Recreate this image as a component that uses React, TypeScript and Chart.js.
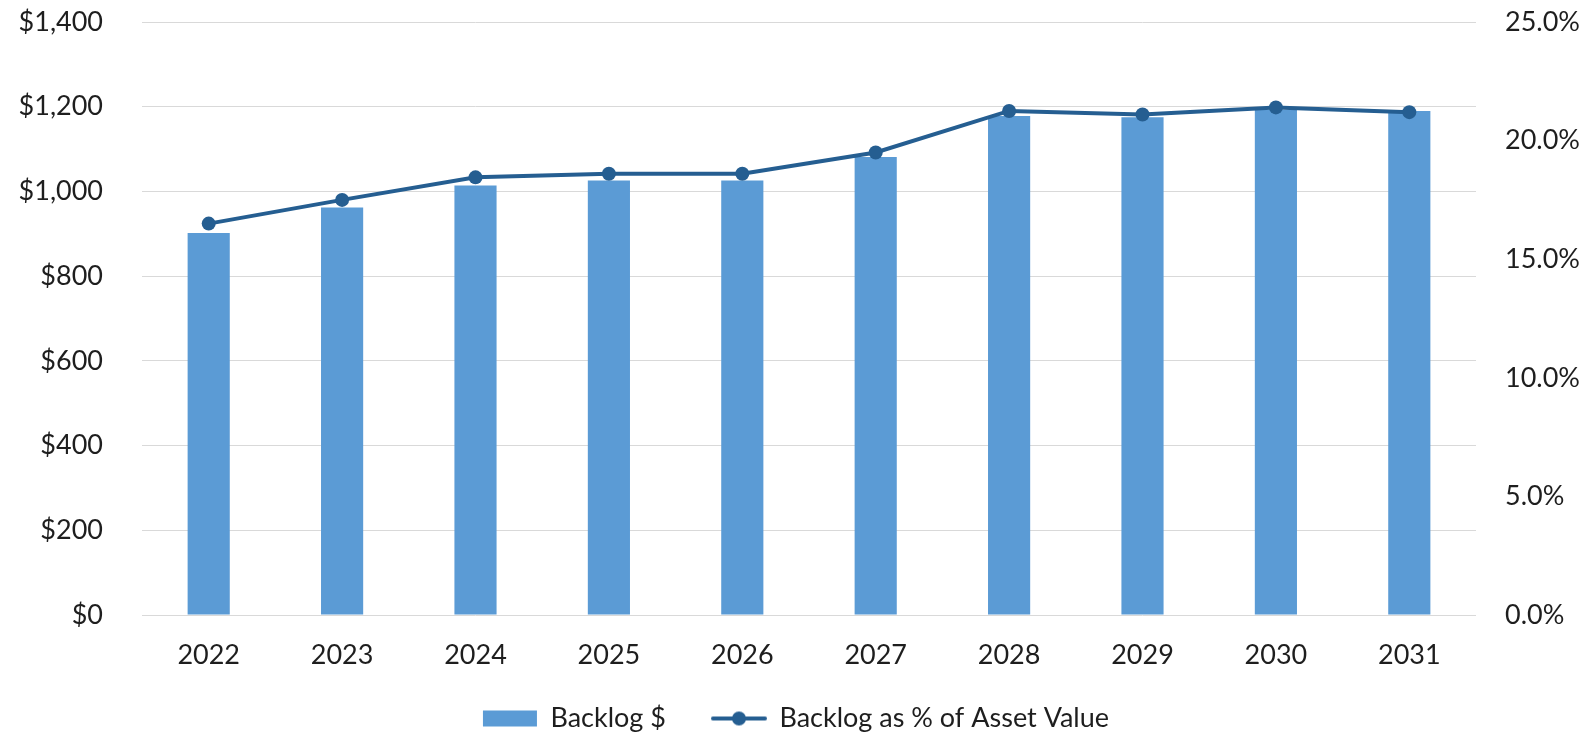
import React, { useEffect, useRef } from 'react';
import { Chart, registerables } from 'chart.js';

Chart.register(...registerables);

const years = ['2022', '2023', '2024', '2025', '2026', '2027', '2028', '2029', '2030', '2031'];
const backlogDollars = [902, 962, 1014, 1026, 1026, 1081, 1178, 1175, 1192, 1190];
const backlogPct = [16.5, 17.5, 18.45, 18.6, 18.6, 19.5, 21.25, 21.1, 21.4, 21.2];
const seriesNames = ['Backlog $', 'Backlog as % of Asset Value'];

const BAR_COLOR = '#5B9BD5';
const LINE_COLOR = '#255E91';
const TEXT_COLOR = '#1e1e1e';
const GRID_COLOR = '#D9D9D9';
const FONT = 'Lato';

function makeLineLegendIcon(): HTMLCanvasElement {
  const c = document.createElement('canvas');
  c.width = 56;
  c.height = 16;
  const ctx = c.getContext('2d')!;
  ctx.strokeStyle = LINE_COLOR;
  ctx.lineWidth = 4;
  ctx.lineCap = 'round';
  ctx.beginPath();
  ctx.moveTo(2, 8);
  ctx.lineTo(54, 8);
  ctx.stroke();
  ctx.fillStyle = LINE_COLOR;
  ctx.beginPath();
  ctx.arc(28, 8, 7, 0, Math.PI * 2);
  ctx.fill();
  return c;
}

export default function App() {
  const ref = useRef<HTMLCanvasElement | null>(null);

  useEffect(() => {
    if (!ref.current) return;
    const lineIcon = makeLineLegendIcon();

    const legendFixPlugin = {
      id: 'legendFix',
      beforeInit(chart: any) {
        const legend = chart.legend;
        if (!legend) return;
        const origFit = legend.fit;
        legend.fit = function () {
          origFit.call(this);
          this.height = 49;
        };
        const origDraw = legend.draw;
        legend.draw = function () {
          const savedTop = this.top;
          this.top = savedTop - 26;
          origDraw.call(this);
          this.top = savedTop;
        };
      },
    };

    const noVerticalPadding = (scale: any, width: number) => {
      scale.width = width;
      scale.paddingTop = 0;
      scale.paddingBottom = 0;
    };

    const chart = new Chart(ref.current, {
      type: 'bar',
      data: {
        labels: years,
        datasets: [
          {
            type: 'bar',
            label: seriesNames[0],
            data: backlogDollars,
            backgroundColor: BAR_COLOR,
            borderWidth: 0,
            yAxisID: 'y',
            categoryPercentage: 1,
            barPercentage: 0.316,
            order: 2,
          },
          {
            type: 'line',
            label: seriesNames[1],
            data: backlogPct,
            borderColor: LINE_COLOR,
            backgroundColor: LINE_COLOR,
            borderWidth: 4,
            pointRadius: 7,
            pointHoverRadius: 7,
            pointBackgroundColor: LINE_COLOR,
            pointBorderWidth: 0,
            tension: 0,
            yAxisID: 'y1',
            order: 1,
          },
        ],
      },
      options: {
        animation: false,
        responsive: true,
        maintainAspectRatio: false,
        layout: { padding: { top: 22, left: 0, right: 0, bottom: 0 } },
        plugins: {
          tooltip: { enabled: false },
          legend: {
            display: true,
            position: 'bottom',
            align: 'center',
            labels: {
              color: TEXT_COLOR,
              font: { family: FONT, size: 27 },
              usePointStyle: true,
              pointStyleWidth: 54,
              boxHeight: 16,
              padding: 46,
              generateLabels: () => [
                {
                  text: seriesNames[0],
                  fillStyle: BAR_COLOR,
                  strokeStyle: BAR_COLOR,
                  lineWidth: 0,
                  pointStyle: 'rect',
                  hidden: false,
                  datasetIndex: 0,
                  fontColor: TEXT_COLOR,
                },
                {
                  text: seriesNames[1],
                  fillStyle: LINE_COLOR,
                  strokeStyle: LINE_COLOR,
                  lineWidth: 0,
                  pointStyle: lineIcon as any,
                  hidden: false,
                  datasetIndex: 1,
                  fontColor: TEXT_COLOR,
                },
              ],
            },
          },
        },
        scales: {
          x: {
            grid: { display: false },
            border: { display: false },
            ticks: {
              color: TEXT_COLOR,
              font: { family: FONT, size: 27 },
              padding: 16,
              maxRotation: 0,
            },
            afterFit: (scale: any) => {
              scale.height = 70;
            },
          },
          y: {
            position: 'left',
            min: 0,
            max: 1400,
            grid: { color: GRID_COLOR, lineWidth: 1, drawTicks: false },
            border: { display: false },
            ticks: {
              stepSize: 200,
              color: TEXT_COLOR,
              font: { family: FONT, size: 27 },
              padding: 39,
              callback: (v: any) => '$' + Number(v).toLocaleString('en-US'),
            },
            afterFit: (scale: any) => noVerticalPadding(scale, 142),
          },
          y1: {
            position: 'right',
            min: 0,
            max: 25,
            grid: { display: false, drawOnChartArea: false, drawTicks: false },
            border: { display: false },
            ticks: {
              stepSize: 5,
              color: TEXT_COLOR,
              font: { family: FONT, size: 27 },
              padding: 29,
              callback: (v: any) => Number(v).toFixed(1) + '%',
            },
            afterFit: (scale: any) => noVerticalPadding(scale, 116),
          },
        },
      },
      plugins: [legendFixPlugin],
    } as any);

    return () => {
      chart.destroy();
    };
  }, []);

  return (
    <div style={{ position: 'fixed', left: 0, top: 0, width: 1592, height: 734, background: '#fff' }}>
      <canvas ref={ref} style={{ display: 'block' }} />
    </div>
  );
}
